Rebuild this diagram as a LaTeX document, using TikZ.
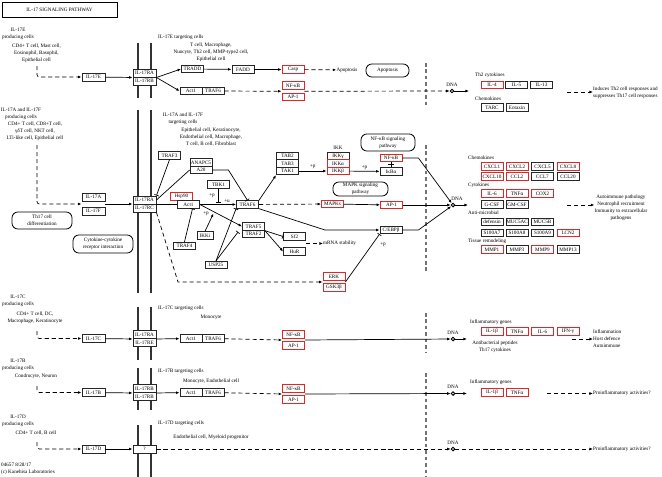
\documentclass[tikz,border=0pt]{standalone}
\usepackage{fontspec}
\setmainfont{Liberation Serif}
\usepackage{tikz}
\usetikzlibrary{arrows.meta, calc}
\definecolor{keggred}{RGB}{226,38,38}

\begin{document}
\begin{tikzpicture}[x=0.03cm, y=-0.03cm,
  font=\fontsize{4.4}{5.9}\selectfont,
  gene/.style={draw=black!85, line width=0.7pt, fill=white, minimum width=0.66cm, minimum height=0.225cm, inner sep=0pt},
  rgene/.style={gene, draw=keggred},
  recp/.style={gene, line width=0.8pt, minimum width=0.69cm, minimum height=0.24cm},
  pway/.style={draw, line width=0.7pt, rounded corners=5pt, inner sep=0pt, align=center},
  txt/.style={inner sep=0pt, align=center},
  ltxt/.style={inner sep=0pt, anchor=west},
  lnk/.style={line width=0.6pt},
  arr/.style={-{Latex[length=3pt,width=2.4pt]}, line width=0.6pt},
  darr/.style={arr, dash pattern=on 3.5pt off 2.5pt},
  inh/.style={-{Bar[width=4pt]}, line width=0.6pt},
  dna/.style={circle, draw, line width=0.8pt, fill=white, minimum size=0.11cm, inner sep=0pt},
  memb/.style={line width=0.9pt, black!80},
  cellsep/.style={line width=1pt, black!55, dash pattern=on 3pt off 2.5pt}]
\useasboundingbox (0,0) rectangle (662,477);

\draw[memb] (138,43) -- (138,98);
\draw[memb] (151,43) -- (151,98);
\draw[memb] (138,110) -- (138,293);
\draw[memb] (151,110) -- (151,293);
\draw[memb] (138,307) -- (138,360);
\draw[memb] (151,307) -- (151,360);
\draw[memb] (138,368) -- (138,410);
\draw[memb] (151,368) -- (151,410);
\draw[memb] (138,425) -- (138,477);
\draw[memb] (151,425) -- (151,477);
\draw[cellsep] (426,63) -- (426,108);
\draw[cellsep] (426,145) -- (426,273);
\draw[cellsep] (426,313) -- (426,353);
\draw[cellsep] (426,373) -- (426,477);

\node[draw, line width=0.6pt, minimum width=3.45cm, minimum height=0.45cm, inner sep=0pt] (title) at (59.5,9.5) {IL-17 SIGNALING PATHWAY};

\node[txt] (eProd) at (18,34) {IL-17E\\producing cells};
\node[txt] (eCells) at (36.5,53) {CD4+ T cell, Mast cell,\\Eosinophil, Basophil,\\Epithelial cell};
\coordinate (eSrc) at (37,66);
\node[recp] (il17e) at (93.5,77) {IL-17E};
\node[recp] (rE1) at (144.5,73) {IL-17RA};
\node[recp] (rE2) at (144.5,81) {IL-17RB};
\node[ltxt] (eTgt) at (158,37) {IL-17E targeting cells};
\node[txt] (eTCells) at (211,52) {T cell, Macrophage,\\Nuocyte, Th2 cell, MMP-type2 cell,\\Epithelial cell};
\node[gene] (tradd) at (192.5,69) {TRADD};
\node[gene] (fadd) at (243,69.5) {FADD};
\node[rgene] (casp) at (293,69.5) {Casp};
\node[txt] (apoT) at (347,70) {Apoptosis};
\node[pway, minimum width=1.29cm, minimum height=0.39cm] (apoP) at (387.5,70.5) {Apoptosis};
\node[gene] (act1E) at (191,91) {Act1};
\node[gene] (traf6E) at (213,91) {TRAF6};
\node[rgene] (nfkbE) at (293,85.5) {NF-κB};
\node[rgene] (ap1E) at (293,97) {AP-1};
\coordinate (eIn) at ($(nfkbE.south west)!0.5!(ap1E.north west)$);
\coordinate (eOut) at ($(nfkbE.south east)!0.5!(ap1E.north east)$);
\node[dna] (dnaE) at (452,91) {};
\node[txt] (dnaEl) at (452,85) {DNA};
\coordinate (dnaEo) at (469,91);
\node[ltxt] (th2) at (475,75) {Th2 cytokines};
\node[rgene] (il4) at (492,85) {IL-4};
\node[gene] (il5) at (516.5,85) {IL-5};
\node[gene] (il13) at (541.5,85) {IL-13};
\node[ltxt] (chemE) at (475,99) {Chemokines};
\node[gene] (tarc) at (492,107.5) {TARC};
\node[gene] (eotaxin) at (517,107.5) {Eotaxin};
\coordinate (eRes) at (567,92);
\node[txt, anchor=west, align=left] (eResT) at (593,92.5) {Induces Th2 cell responses and\\suppresses Th17 cell responses};

\draw[darr, rounded corners=2pt] (eSrc) |- (il17e);
\draw (il17e) edge[arr] (rE1.south west);
\draw (rE1.south east) edge[arr] (tradd.west);
\draw (rE1.south east) edge[arr] (act1E.west);
\draw (tradd) edge[arr] (fadd);
\draw (fadd) edge[arr] (casp);
\draw (casp) edge[darr] (apoT);
\draw (traf6E) edge[darr] (eIn);
\draw (eOut) edge[darr] (dnaE);
\draw (dnaE) edge[arr] (dnaEo);
\draw (eRes) edge[darr] (eRes -| eResT.west);

\node[txt] (afProd) at (21,113.5) {IL-17A and IL-17F\\producing cells};
\node[txt] (afCells) at (35,131.5) {CD4+ T cell, CD8+T cell,\\γδT cell, NKT cell,\\LTi-like cell, Epithelial cell};
\coordinate (afSrc) at (37,145);
\node[recp] (il17a) at (93.5,197) {IL-17A};
\node[recp] (il17f) at (93.5,211) {IL-17F};
\coordinate (afIn) at ($(il17a.south west)!0.5!(il17f.north west)$);
\coordinate (afOut) at ($(il17a.south east)!0.5!(il17f.north east)$);
\node[recp] (rA) at (144.5,200) {IL-17RA};
\node[recp] (rC) at (144.5,208) {IL-17RC};
\node[pway, minimum width=1.8cm, minimum height=0.51cm] (th17) at (42,220.5) {Th17 cell\\differentiation};
\node[pway, minimum width=1.8cm, minimum height=0.54cm] (ccri) at (103,244) {Cytokine-cytokine\\receptor interaction};
\node[txt] (afTgt) at (183,118.5) {IL-17A and IL-17F\\targeting cells};
\node[txt] (afTCells) at (211,137) {Epithelial cell, Keratinocyte,\\Endothelial cell, Macrophage,\\T cell, B cell, Fibroblast};
\node[gene] (traf3) at (169.5,155.5) {TRAF3};
\node[gene] (anapc5) at (201,162.5) {ANAPC5};
\node[gene] (a20) at (201,170) {A20};
\node[gene] (tbk1) at (218.5,184.5) {TBK1};
\node[rgene] (hsp90) at (181.5,196.5) {Hsp90};
\node[gene] (act1) at (188.5,204.5) {Act1};
\node[gene] (traf6) at (247.5,204.5) {TRAF6};
\node[gene] (traf4) at (184.5,246) {TRAF4};
\node[gene, minimum width=0.48cm] (ikki) at (205,235.5) {IKKi};
\node[gene] (traf5) at (253.5,226.5) {TRAF5};
\node[gene] (traf2) at (253.5,234) {TRAF2};
\node[gene] (usp25) at (216,265) {USP25};
\node[gene] (sf2) at (294.5,236.5) {Sf2};
\node[gene] (hur) at (294.5,251.5) {HuR};
\coordinate (mS) at (306,243.5);
\node[ltxt] (mrna) at (323,243.5) {mRNA stability};
\node[rgene] (erk) at (334,276.5) {ERK};
\node[rgene] (gsk3b) at (334,287.5) {GSK3β};
\coordinate (egIn) at ($(erk.south west)!0.5!(gsk3b.north west)$);
\coordinate (egOut) at ($(erk.south east)!0.5!(gsk3b.north east)$);
\coordinate (egBend) at (178,282);
\node[gene] (tab2) at (287.5,156) {TAB2};
\node[gene] (tab3) at (287.5,163.5) {TAB3};
\node[gene] (tak1) at (287.5,171) {TAK1};
\node[txt] (ikkL) at (338,147.5) {IKK};
\node[gene] (ikkg) at (338,156) {IKKγ};
\node[rgene] (ikka) at (338,163.5) {IKKα};
\node[rgene] (ikkb) at (338,171) {IKKβ};
\node[rgene] (nfkb) at (391,158) {NF-κB};
\node[gene] (ikba) at (391,171.5) {IκBα};
\node[pway, minimum width=1.62cm, minimum height=0.51cm] (nfkbP) at (388,142.5) {NF-κB signaling\\pathway};
\node[pway, minimum width=1.65cm, minimum height=0.42cm] (mapkP) at (360.5,189) {MAPK signaling\\pathway};
\node[rgene] (mapks) at (332.5,204) {MAPKs};
\node[rgene] (ap1) at (391.5,205) {AP-1};
\node[gene] (cebpb) at (391,230) {C/EBPβ};
\coordinate (cBend) at (325,230);
\node[dna] (dnaM) at (453,205) {};
\node[txt] (dnaMl) at (457,198.5) {DNA};
\coordinate (dnaMo) at (468,205);
\coordinate (tbkHit) at ($(tbk1.south |- act1.east)+(0,-1.5)$);
\coordinate (ikkiHit) at ($(act1.east)!0.32!(traf5.west)+(0,2)$);
\coordinate (traf4Hit) at ($(act1.south)+(4,0)$);
\coordinate (uHit) at ($(traf2.west)+(-4,-2)$);
\node[txt] (lP1) at (212,196) {+p};
\node[txt] (lP2) at (206,214) {+p};
\node[txt] (lP5) at (383,245) {+p};

\draw[darr, rounded corners=2pt] (afSrc) |- (afIn);
\draw (afOut) edge[arr] (afOut -| rA.west);
\draw (rA.south east) edge[lnk] (act1);
\draw (rA.east) edge[lnk] (a20.west);
\draw (traf3.south) edge[inh] (rA.north east);
\draw[inh] (a20.east) -- ++(16,0) -- (traf6.north);
\draw (act1) edge[arr] node[above, pos=0.75, inner sep=1pt] (lU) {+u} (traf6);
\draw (tbk1.south) edge[inh] (tbkHit);
\draw (act1.east) edge[arr] (traf5.west);
\draw (ikki.north) edge[arr] (ikkiHit);
\draw (traf4.north) edge[inh] (traf4Hit);
\draw (usp25.north) edge[inh] (traf6.south west);
\draw (usp25.north) edge[inh] (uHit);
\draw (traf5.south east) edge[inh] (sf2.west);
\draw (traf5.south east) edge[arr] (hur.west);
\draw (mS) edge[darr] (mrna.west);
\draw[darr] (rC.south east) -- (egBend) -- (egIn);
\draw (traf6.north east) edge[arr] (tak1.south west);
\draw (tak1) edge[arr] node[above, inner sep=1.5pt] (lP3) {+p} (ikkb);
\draw (ikkb) edge[arr] node[above, inner sep=1.5pt] (lP4) {+p} (ikba);
\draw (nfkb.south) edge[lnk] (ikba.north);
\draw[lnk] ($(nfkb.south)!0.4!(ikba.north)+(-3,0)$) -- ++(6,0);
\draw (traf6) edge[darr] (mapks);
\draw (mapks) edge[arr] (ap1);
\draw[arr] (traf6.south east) -- (cBend) -- (cebpb.west);
\draw (egOut) edge[inh] (cebpb.south west);
\draw[arr] (nfkb.east) -- ++(16,0) -- (dnaM);
\draw (ap1) edge[arr] (dnaM);
\draw[arr] (cebpb.east) -- ++(16,0) -- (dnaM);
\draw (dnaM) edge[arr] (dnaMo);

\node[ltxt] (chemM) at (468,158) {Chemokines};
\node[rgene] (cxcl1) at (492,166.5) {CXCL1};
\node[rgene] (cxcl2) at (517,166.5) {CXCL2};
\node[gene] (cxcl5) at (542.5,166.5) {CXCL5};
\node[rgene] (cxcl8) at (568,166.5) {CXCL8};
\node[rgene] (cxcl10) at (492,176.5) {CXCL10};
\node[rgene] (ccl2) at (517,176.5) {CCL2};
\node[gene] (ccl7) at (542.5,176.5) {CCL7};
\node[gene] (ccl20) at (568,176.5) {CCL20};
\node[ltxt] (cytoM) at (468,185) {Cytokines};
\node[rgene] (il6) at (492,193.5) {IL-6};
\node[rgene] (tnfa) at (517,193.5) {TNFα};
\node[rgene] (cox2) at (542.5,193.5) {COX2};
\node[gene] (gcsf) at (492,204.5) {G-CSF};
\node[gene] (gmcsf) at (517,204.5) {GM-CSF};
\node[ltxt] (antiM) at (468,213) {Anti-microbial};
\node[gene] (defensin) at (492,222) {defensin};
\node[gene] (muc5ac) at (517,222) {MUC5AC};
\node[gene] (muc5b) at (542.5,222) {MUC5B};
\node[gene] (s100a7) at (492,233) {S100A7};
\node[gene] (s100a8) at (517,233) {S100A8};
\node[gene] (s100a9) at (542.5,233) {S100A9};
\node[rgene] (lcn2) at (568,233) {LCN2};
\node[ltxt] (tissM) at (468,241) {Tissue remodeling};
\node[rgene] (mmp1) at (492,249.5) {MMP1};
\node[gene] (mmp3) at (517,249.5) {MMP3};
\node[rgene] (mmp9) at (542.5,249.5) {MMP9};
\node[gene] (mmp13) at (568,249.5) {MMP13};
\coordinate (mRes) at (567,205);
\node[txt] (mResT) at (621,207.5) {Autoimmune pathology\\Neutrophil recruitment\\Immunity to extracellular\\pathogens};
\draw (mRes) edge[darr] (mRes -| mResT.west);

\node[txt] (cProd) at (18,300.5) {IL-17C\\producing cells};
\node[txt] (cCells) at (35,317.5) {CD4+ T cell, DC,\\Macrophage, Keratinocyte};
\coordinate (cSrc) at (37,331);
\node[recp] (il17c) at (93.5,338.5) {IL-17C};
\node[recp] (rC1) at (144.5,334.5) {IL-17RA};
\node[recp] (rC2) at (144.5,342.5) {IL-17RE};
\node[ltxt] (cTgt) at (158,308) {IL-17C targeting cells};
\node[txt] (cTCells) at (211,317) {Monocyte};
\node[gene] (act1C) at (191,338.5) {Act1};
\node[gene] (traf6C) at (213,338.5) {TRAF6};
\node[rgene] (nfkbC) at (293.5,334.5) {NF-κB};
\node[rgene] (ap1C) at (293.5,345.5) {AP-1};
\coordinate (cIn) at ($(nfkbC.south west)!0.5!(ap1C.north west)$);
\coordinate (cOut) at ($(nfkbC.south east)!0.5!(ap1C.north east)$);
\node[dna] (dnaC) at (453,339) {};
\node[txt] (dnaCl) at (453,333) {DNA};
\coordinate (dnaCo) at (467,339);
\node[ltxt] (cInfl) at (470,322) {Inflammatory genes};
\node[rgene] (il1bC) at (492,331.5) {IL-1β};
\node[rgene] (tnfaC) at (517,331.5) {TNFα};
\node[rgene] (il6C) at (542.5,331.5) {IL-6};
\node[rgene] (ifngC) at (568,331.5) {IFN-γ};
\node[txt] (cPep) at (495,346.5) {Antibacterial peptides\\Th17 cytokines};
\coordinate (cRes) at (572,339);
\node[txt, anchor=west, align=left] (cResT) at (593,339) {Inflammation\\Host defence\\Autoimmune};

\draw[darr, rounded corners=2pt] (cSrc) |- (il17c);
\draw (il17c) edge[arr] (rC1.south west);
\draw (rC1.south east) edge[arr] (act1C);
\draw (traf6C) edge[darr] (cIn);
\draw (cOut) edge[arr] (dnaC);
\draw (dnaC) edge[arr] (dnaCo);
\draw (cRes) edge[darr] (cResT.west);

\node[txt] (bProd) at (18,365) {IL-17B\\producing cells};
\node[txt] (bCells) at (36,376) {Condrocyte, Neuron};
\coordinate (bSrc) at (37,386);
\node[recp] (il17b) at (93.5,392.5) {IL-17B};
\node[recp] (rB1) at (144.5,388.5) {IL-17RB};
\node[recp] (rB2) at (144.5,396.5) {IL-17RB};
\node[ltxt] (bTgt) at (158,371) {IL-17B targeting cells};
\node[txt] (bTCells) at (211,381) {Monocyte, Endothelial cell};
\node[gene] (act1B) at (191,392.5) {Act1};
\node[gene] (traf6B) at (213,392.5) {TRAF6};
\node[rgene] (nfkbB) at (293.5,388.5) {NF-κB};
\node[rgene] (ap1B) at (293.5,399.5) {AP-1};
\coordinate (bIn) at ($(nfkbB.south west)!0.5!(ap1B.north west)$);
\coordinate (bOut) at ($(nfkbB.south east)!0.5!(ap1B.north east)$);
\node[dna] (dnaB) at (453,393.5) {};
\node[txt] (dnaBl) at (453,387) {DNA};
\coordinate (dnaBo) at (467,393.5);
\node[ltxt] (bInfl) at (470,382) {Inflammatory genes};
\node[rgene] (il1bB) at (492,392.5) {IL-1β};
\node[rgene] (tnfaB) at (517,392.5) {TNFα};
\coordinate (bRes) at (547,393.5);
\node[ltxt] (bResT) at (593,393.5) {Proinflammatory activities?};

\draw[darr, rounded corners=2pt] (bSrc) |- (il17b);
\draw (il17b) edge[arr] (rB1.south west);
\draw (rB1.south east) edge[arr] (act1B);
\draw (traf6B) edge[darr] (bIn);
\draw (bOut) edge[arr] (dnaB);
\draw (dnaB) edge[arr] (dnaBo);
\draw (bRes) edge[darr] (bResT);

\node[txt] (dProd) at (18,420.5) {IL-17D\\producing cells};
\node[txt] (dCells) at (36,433) {CD4+ T cell, B cell};
\coordinate (dSrc) at (37,442);
\node[recp] (il17d) at (93.5,449) {IL-17D};
\node[recp] (qD) at (144.5,449) {?};
\node[ltxt] (dTgt) at (158,423) {IL-17D targeting cells};
\node[txt] (dTCells) at (211,437) {Endothelial cell, Myeloid progenitor};
\node[dna] (dnaD) at (453,449) {};
\node[txt] (dnaDl) at (453,442.5) {DNA};
\node[ltxt] (dResT) at (593,449) {Proinflammatory activities?};

\draw[darr, rounded corners=2pt] (dSrc) |- (il17d);
\draw (il17d) edge[arr] (qD);
\draw (qD) edge[darr] (dnaD);
\draw (dnaD) edge[darr] (dResT);

\node[txt, anchor=north west, align=left] (foot) at (1,463) {04657 8/28/17\\(c) Kanehisa Laboratories};
\end{tikzpicture}
\end{document}
